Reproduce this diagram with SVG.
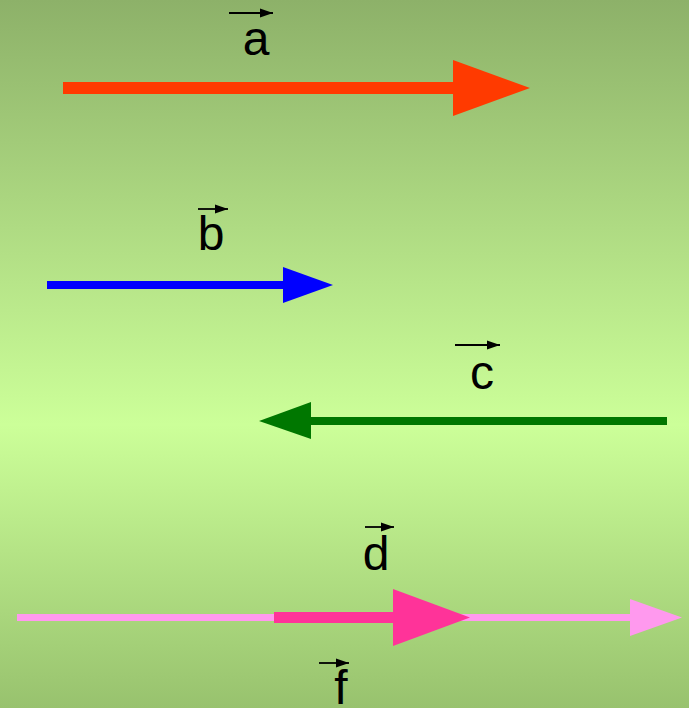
<svg xmlns="http://www.w3.org/2000/svg" width="689" height="708" viewBox="0 0 689 708">
<defs>
<linearGradient id="bg" x1="0" y1="0" x2="0" y2="1">
<stop offset="0" stop-color="#8DB169"/>
<stop offset="0.6" stop-color="#CCFF99"/>
<stop offset="1" stop-color="#98C26E"/>
</linearGradient>
<marker id="vec" markerWidth="13" markerHeight="10" refX="13" refY="5" orient="auto" markerUnits="userSpaceOnUse">
<path d="M0,0.5 L13,5 L0,9.5 Z" fill="#000"/>
</marker>
</defs>
<style>
.lbl{font-family:"Liberation Sans",Arial,sans-serif;font-size:48px;fill:#000;text-anchor:middle}
.vl{stroke:#000;stroke-width:1.8;fill:none;marker-end:url(#vec)}
</style>
<rect width="689" height="708" fill="url(#bg)"/>
<g id="connectors">
<g id="vec-a">
<rect x="63" y="82" width="392" height="12" fill="#FF3A00"/>
<path d="M453,60 L530,88 L453,116 Z" fill="#FF3A00"/>
</g>
<g id="vec-b">
<rect x="47" y="281" width="238" height="8" fill="#0000FF"/>
<path d="M283,267 L333,285 L283,303 Z" fill="#0000FF"/>
</g>
<g id="vec-c">
<rect x="309" y="417" width="358" height="8" fill="#007700"/>
<path d="M311,402 L259,421 L311,439 Z" fill="#007700"/>
</g>
<g id="vec-f">
<rect x="17" y="614" width="615" height="7" fill="#FF99EE"/>
<path d="M630,599 L682,617.5 L630,636 Z" fill="#FF99EE"/>
</g>
<g id="vec-d">
<rect x="274" y="612" width="121" height="11" fill="#FF3399"/>
<path d="M393,589 L470,617.5 L393,646 Z" fill="#FF3399"/>
</g>
</g>
<g id="label-a"><line class="vl" x1="229" y1="13" x2="273" y2="13"/><text class="lbl" x="256" y="55">a</text></g>
<g id="label-b"><line class="vl" x1="198" y1="209" x2="228" y2="209"/><text class="lbl" x="211" y="250">b</text></g>
<g id="label-c"><line class="vl" x1="455" y1="345" x2="500" y2="345"/><text class="lbl" x="482" y="389">c</text></g>
<g id="label-d"><line class="vl" x1="365" y1="527" x2="394" y2="527"/><text class="lbl" x="376" y="570">d</text></g>
<g id="label-f"><line class="vl" x1="319" y1="663" x2="349" y2="663"/><text class="lbl" x="341" y="704">f</text></g>
</svg>
